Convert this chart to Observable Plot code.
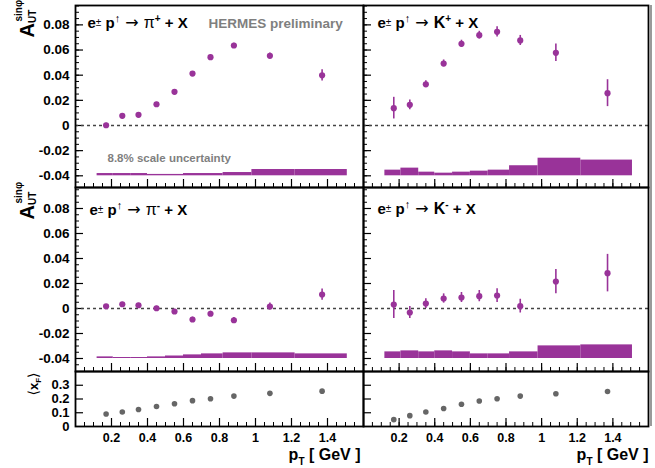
<!DOCTYPE html>
<html><head><meta charset="utf-8">
<script src="https://cdn.jsdelivr.net/npm/d3@7"></script>
<script src="https://cdn.jsdelivr.net/npm/@observablehq/plot@0.6"></script>
<style>
html,body{margin:0;padding:0;background:#fff;}
#chart{position:relative;width:655px;height:468px;overflow:hidden;background:#fff;}
#chart svg{position:absolute;white-space:pre;}
</style></head><body><div id="chart"></div>
<script>
// ---- data ----
const pT = [0.17, 0.26, 0.35, 0.45, 0.55, 0.65, 0.75, 0.88, 1.08, 1.37];

const piPlus     = [0.0002, 0.0077, 0.0085, 0.0169, 0.0268, 0.0413, 0.0543, 0.0636, 0.0554, 0.0399];
const piPlusErr  = [0.0015, 0.0015, 0.0015, 0.0015, 0.0015, 0.0016, 0.0017, 0.0018, 0.0022, 0.0045];
const kPlus      = [0.0138, 0.0164, 0.0328, 0.0493, 0.0649, 0.0718, 0.0745, 0.0676, 0.0578, 0.0257];
const kPlusErr   = [0.0086, 0.0038, 0.0028, 0.0028, 0.0029, 0.0031, 0.0041, 0.0040, 0.0070, 0.0107];
const piMinus    = [0.0018, 0.0034, 0.0026, 0.0002, -0.0024, -0.0088, -0.0042, -0.0094, 0.0016, 0.0112];
const piMinusErr = [0.0015, 0.0015, 0.0015, 0.0016, 0.0018, 0.0019, 0.0020, 0.0022, 0.0028, 0.0045];
const kMinus     = [0.0032, -0.0032, 0.0040, 0.0080, 0.0088, 0.0099, 0.0104, 0.0019, 0.0216, 0.0283];
const kMinusErr  = [0.0112, 0.0048, 0.0039, 0.0037, 0.0040, 0.0045, 0.0055, 0.0055, 0.0097, 0.0150];

const xFPions = [0.091, 0.105, 0.124, 0.145, 0.166, 0.188, 0.202, 0.221, 0.241, 0.257];
const xFKaons = [0.050, 0.079, 0.105, 0.131, 0.162, 0.186, 0.202, 0.221, 0.238, 0.255];

// systematic bands (bin edges + band heights above the -0.04 baseline)
const bandEdges = [0.12, 0.21, 0.31, 0.40, 0.50, 0.60, 0.70, 0.82, 0.98, 1.22, 1.51];
const bandBase = -0.04;
const piPlusSys  = [0.0018, 0.0018, 0.0018, 0.0011, 0.0011, 0.0018, 0.0018, 0.0026, 0.0050, 0.0050];
const kPlusSys   = [0.0045, 0.0061, 0.0029, 0.0021, 0.0029, 0.0037, 0.0045, 0.0080, 0.0140, 0.0125];
const piMinusSys = [0.0013, 0.0008, 0.0008, 0.0013, 0.0020, 0.0029, 0.0037, 0.0045, 0.0045, 0.0037];
const kMinusSys  = [0.0053, 0.0061, 0.0053, 0.0061, 0.0053, 0.0037, 0.0037, 0.0053, 0.0101, 0.0109];

// ticks
const yTickValues = [0.08, 0.06, 0.04, 0.02, 0, -0.02, -0.04];
const yTickLabels = ["0.08", "0.06", "0.04", "0.02", "0", "-0.02", "-0.04"];
const xFTickValues = [0.3, 0.2, 0.1, 0];
const xFTickLabels = ["0.3", "0.2", "0.1", "0"];
const xTickValues = [0.2, 0.4, 0.6, 0.8, 1.0, 1.2, 1.4];
const xTickLabels = ["0.2", "0.4", "0.6", "0.8", "1", "1.2", "1.4"];

// ---- styling ----
const FONT = '"Liberation Sans", Arial, Helvetica, "DejaVu Sans", sans-serif';
const PURPLE = "#993399";
const GRAYDOT = "#666666";
const X_DOMAIN = [0, 1.6];
const Y_TOP = [-0.0493, 0.0954];
const Y_MID = [-0.0504, 0.0968];
const Y_XF = [0, 0.4];

const xMinor = d3.range(1, 32).map(i => i * 0.05);
const yMinor = d3.range(-9, 20).map(i => i * 0.005);

const chart = document.getElementById("chart");

function richText(svg, key, parts) {
  d3.select(svg).selectAll("text").filter(function () { return this.textContent === key; }).each(function () {
    const t = d3.select(this);
    t.text(null);
    parts.forEach(p => {
      const s = t.append("tspan").text(p.t);
      Object.entries(p.a || {}).forEach(([k, v]) => s.attr(k, v));
    });
  });
}

function reactionParts(h, c) {
  return [
    {t: "e", a: {"font-size": 15, "font-weight": "bold"}},
    {t: "±", a: {"font-size": 10, "font-weight": "normal", dy: -2}},
    {t: " p", a: {"font-size": 15, "font-weight": "bold", dy: 2}},
    {t: "↑", a: {"font-size": 11, "font-weight": "normal", dy: -6}},
    {t: " → ", a: {"font-size": 16, "font-weight": "normal", dy: 6, "font-family": "DejaVu Sans"}},
    {t: h, a: {"font-size": 16, "font-weight": h === "π" ? "normal" : "bold"}},
    {t: c, a: {"font-size": 10, "font-weight": "bold", dy: -6}},
    {t: " + X", a: {"font-size": 15, "font-weight": "bold", dy: 6}}
  ];
}

function asymTable(vals, errs) {
  return pT.map((x, i) => ({x, y: vals[i], lo: vals[i] - errs[i], hi: vals[i] + errs[i]}));
}
function bandTable(h) {
  return h.map((v, i) => ({x1: bandEdges[i], x2: bandEdges[i + 1], y1: bandBase, y2: bandBase + v}));
}

function makePanel(cfg) {
  const fw = cfg.width - cfg.mL - cfg.mR;
  const fh = cfg.height - cfg.mT - cfg.mB;
  const isXF = cfg.kind === "xf";
  const marks = [];
  if (isXF) {
    marks.push(Plot.ruleY(xFTickValues.filter(v => v > 0), {stroke: "black", strokeWidth: 1.2, insetRight: fw - 8}));
  } else {
    marks.push(Plot.ruleY(yMinor.filter(v => v > cfg.yDomain[0] && v < cfg.yDomain[1]), {stroke: "black", strokeWidth: 1, insetRight: fw - 4}));
    marks.push(Plot.ruleY(yTickValues, {stroke: "black", strokeWidth: 1.2, insetRight: fw - 8}));
  }
  marks.push(Plot.ruleX(xMinor, {stroke: "black", strokeWidth: 1, insetTop: fh - 4}));
  marks.push(Plot.ruleX(xTickValues, {stroke: "black", strokeWidth: 1.2, insetTop: fh - 8}));

  if (!isXF) {
    marks.push(Plot.ruleY([0], {stroke: "#444", strokeWidth: 1.3, strokeDasharray: "3,3"}));
    marks.push(Plot.rect(bandTable(cfg.sys), {x1: "x1", x2: "x2", y1: "y1", y2: "y2", fill: PURPLE}));
    const tbl = asymTable(cfg.vals, cfg.errs);
    marks.push(Plot.ruleX(tbl, {x: "x", y1: "lo", y2: "hi", stroke: PURPLE, strokeWidth: 1.6}));
    marks.push(Plot.dot(tbl, {x: "x", y: "y", r: 3.1, fill: PURPLE}));
    marks.push(Plot.text([cfg.labelKey], {frameAnchor: "top-left", dx: cfg.labelDx, dy: cfg.labelDy, lineAnchor: "bottom", textAnchor: "start", fill: "black", fontSize: 15}));
  } else {
    const tbl = pT.map((x, i) => ({x, y: cfg.vals[i]}));
    marks.push(Plot.dot(tbl, {x: "x", y: "y", r: 2.8, fill: GRAYDOT}));
    marks.push(Plot.text(xTickValues.map((v, i) => ({v, label: xTickLabels[i]})), {x: "v", text: "label", frameAnchor: "bottom", dy: 15, lineAnchor: "bottom", fontSize: 12.5, fontWeight: "bold", fill: "black"}));
    marks.push(Plot.text(["PTTITLE"], {frameAnchor: "bottom-right", dx: cfg.titleDx, dy: 33, textAnchor: "end", lineAnchor: "bottom", fontSize: 16, fontWeight: "bold", fill: "black"}));
  }
  if (cfg.side === "left") {
    if (isXF) {
      marks.push(Plot.text(xFTickValues.map((v, i) => ({v, label: xFTickLabels[i]})), {y: "v", text: "label", frameAnchor: "left", dx: -6, textAnchor: "end", lineAnchor: "middle", fontSize: 13, fontWeight: "bold", fill: "black"}));
      marks.push(Plot.text(["XFTITLE"], {frameAnchor: "left", rotate: -90, dx: -38, dy: -15, textAnchor: "middle", lineAnchor: "bottom", fontSize: 14, fill: "black"}));
    } else {
      marks.push(Plot.text(yTickValues.map((v, i) => ({v, label: yTickLabels[i]})), {y: "v", text: "label", frameAnchor: "left", dx: -6, textAnchor: "end", lineAnchor: "middle", fontSize: 13.5, fontWeight: "bold", fill: "black"}));
      marks.push(Plot.text(["AUTTITLE"], {frameAnchor: "top-left", rotate: -90, dx: -42, dy: 32, textAnchor: "start", lineAnchor: "bottom", fontSize: 20, fontWeight: "bold", fill: "black"}));
    }
  } else {
    marks.push(Plot.ruleX([X_DOMAIN[1]], {dx: 2.5, stroke: "#9a9a9a", strokeWidth: 2}));
  }
  if (cfg.extra) marks.push(...cfg.extra);
  marks.push(Plot.frame({stroke: "black", strokeWidth: 1.8}));

  const svg = Plot.plot({
    width: cfg.width, height: cfg.height,
    marginLeft: cfg.mL, marginRight: cfg.mR, marginTop: cfg.mT, marginBottom: cfg.mB,
    x: {domain: X_DOMAIN, axis: null},
    y: {domain: cfg.yDomain, axis: null},
    style: {background: "transparent", overflow: "visible", fontFamily: FONT, position: "absolute", left: cfg.left + "px", top: cfg.top + "px"},
    marks
  });
  svg.style.position = "absolute";
  svg.style.left = cfg.left + "px";
  svg.style.top = cfg.top + "px";
  chart.appendChild(svg);

  if (cfg.labelKey) richText(svg, cfg.labelKey, reactionParts(cfg.hadron, cfg.charge));
  richText(svg, "PTTITLE", [
    {t: "p", a: {"font-size": 16, "font-weight": "bold"}},
    {t: "T", a: {"font-size": 10, "font-weight": "bold", dy: 5}},
    {t: " [ GeV ]", a: {"font-size": 16, "font-weight": "bold", dy: -5}}
  ]);
  richText(svg, "AUTTITLE", [
    {t: "A", a: {"font-size": 20, "font-weight": "bold", x: 0, y: 0}},
    {t: "UT", a: {"font-size": 10, "font-weight": "bold", x: 14.5, y: 2}},
    {t: "sinφ", a: {"font-size": 10, "font-weight": "bold", x: 16, y: -12}}
  ]);
  richText(svg, "XFTITLE", [
    {t: "⟨", a: {"font-size": 14, "font-weight": "normal", "font-family": "DejaVu Sans"}},
    {t: "x", a: {"font-size": 13, "font-weight": "bold"}},
    {t: "F", a: {"font-size": 8, "font-weight": "bold", dy: 3}},
    {t: "⟩", a: {"font-size": 14, "font-weight": "normal", dy: -3, "font-family": "DejaVu Sans"}}
  ]);
  return svg;
}

const L = {left: 0, width: 363, mL: 75, mR: 0, side: "left"};
const R = {left: 363, width: 292, mL: 0, mR: 7, side: "right"};

makePanel({...L, top: 0, height: 187, mT: 5, mB: 0, yDomain: Y_TOP, vals: piPlus, errs: piPlusErr, sys: piPlusSys,
  labelKey: "RX_PIP", hadron: "π", charge: "+", labelDx: 12, labelDy: 22,
  extra: [
    Plot.text(["HERMES preliminary"], {frameAnchor: "top-left", dx: 133, dy: 22, lineAnchor: "bottom", fontSize: 13.5, fontWeight: "bold", fill: "#7f7f7f"}),
    Plot.text(["8.8% scale uncertainty"], {frameAnchor: "top-left", dx: 32, dy: 156, lineAnchor: "bottom", fontSize: 11.5, fontWeight: "bold", fill: "#7f7f7f"})
  ]});
makePanel({...R, top: 0, height: 187, mT: 5, mB: 0, yDomain: Y_TOP, vals: kPlus, errs: kPlusErr, sys: kPlusSys,
  labelKey: "RX_KP", hadron: "K", charge: "+", labelDx: 14, labelDy: 22});
makePanel({...L, top: 187, height: 184, mT: 0, mB: 0, yDomain: Y_MID, vals: piMinus, errs: piMinusErr, sys: piMinusSys,
  labelKey: "RX_PIM", hadron: "π", charge: "-", labelDx: 14, labelDy: 27});
makePanel({...R, top: 187, height: 184, mT: 0, mB: 0, yDomain: Y_MID, vals: kMinus, errs: kMinusErr, sys: kMinusSys,
  labelKey: "RX_KM", hadron: "K", charge: "-", labelDx: 14, labelDy: 26});
makePanel({...L, top: 371, height: 97, mT: 0, mB: 42, yDomain: Y_XF, kind: "xf", vals: xFPions, titleDx: -3});
makePanel({...R, top: 371, height: 97, mT: 0, mB: 42, yDomain: Y_XF, kind: "xf", vals: xFKaons, titleDx: 0});
</script></body></html>
